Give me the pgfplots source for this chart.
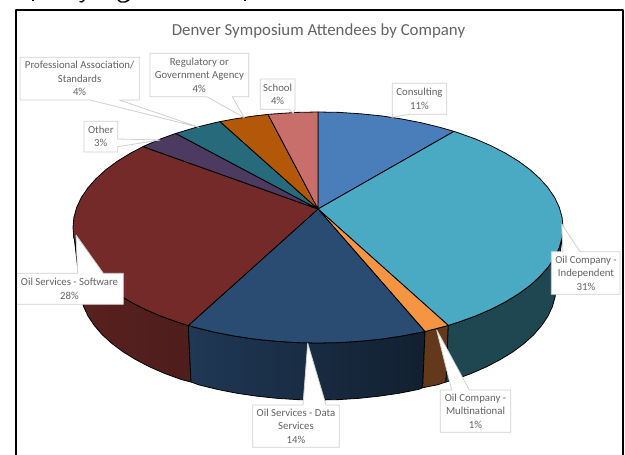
\documentclass[border=0pt]{standalone}
\usepackage{pgfplots}
\usepackage{fontspec}
\setmainfont{Carlito}
\pgfplotsset{compat=1.18}
\definecolor{cCons}{HTML}{4A7EBB}
\definecolor{cInd}{HTML}{4AA9C3}
\definecolor{cMul}{HTML}{F59441}
\definecolor{cData}{HTML}{2A4B72}
\definecolor{cSoft}{HTML}{732A29}
\definecolor{cOth}{HTML}{4C3A60}
\definecolor{cProf}{HTML}{276A7B}
\definecolor{cReg}{HTML}{B35708}
\definecolor{cSch}{HTML}{C86E6B}
\definecolor{txt}{HTML}{636363}
\definecolor{bx}{HTML}{D0D0D0}
\tikzset{lab/.style={align=center,inner sep=0pt,text=txt,font=\fontsize{10.8}{13.4}\selectfont}}
\begin{document}
\begin{tikzpicture}
\useasboundingbox (0,0) rectangle (625bp,455bp);
\begin{axis}[
  at={(0,0)}, anchor=south west,
  scale only axis, width=625bp, height=455bp,
  xmin=0, xmax=625, ymin=0, ymax=455, y dir=reverse,
  axis lines=none, clip=false,
  no markers,
  every axis plot/.append style={line join=round, line width=0.8bp, draw=black, solid},
]
% ---------- side walls
\addplot[left color=cSoft!78!black, right color=cSoft!68!black] coordinates {
(73.5,232)(73.9,237.6)(76.7,247.6)(81.3,257.4)(87.8,267.0)(96.0,276.3)(105.8,285.3)(117.3,293.7)(130.3,301.7)(144.8,309.2)(160.5,316.0)(177.5,322.1)(188.3,325.5)
(191,382)(181.5,379.6)(165,373.6)(149.7,366.9)(135.7,359.6)(123,351.8)(111.9,343.5)(102.3,334.8)(94.4,325.6)(88.1,316.2)(83.6,306.6)(80.9,296.9)(80,287)(73.5,232)};
\addplot[left color=cData!75!black, right color=cData!42!black] coordinates {
(188.3,325.5)(195.5,327.5)(214.5,332.2)(234.2,336.0)(254.6,339.1)(275.5,341.2)(296.6,342.6)(318,343)(339.4,342.6)(360.5,341.2)(381.4,339.1)(401.8,336.0)(421.5,332.2)(425,331.5)
(422.7,387.7)(418.6,389.4)(399.4,393.2)(379.6,396.1)(359.3,398.3)(338.8,399.6)(318,400)(297.2,399.6)(276.7,398.3)(256.4,396.1)(236.6,393.2)(217.4,389.4)(199,384.9)(191,382)(188.3,325.5)};
\addplot[fill=cMul!40!black!90!cSoft] coordinates {
(425,331.5)(440.5,327.5)(448.3,325.4)(446,382)(437,384.9)(422.7,387.7)(425,331.5)};
\addplot[fill=cInd!42!black] coordinates {
(448.3,325.4)(458.5,322.1)(475.5,316.0)(491.2,309.2)(505.7,301.7)(518.7,293.7)(530.2,285.3)(540.0,276.3)(548.2,267.0)(554.7,257.4)(559.3,247.6)(562.1,237.6)(562.8,232)
(556,287)(555.1,296.9)(552.4,306.6)(547.9,316.2)(541.6,325.6)(533.7,334.8)(524.1,343.5)(513,351.8)(500.3,359.6)(486.3,366.9)(471,373.6)(454.5,379.6)(446,382)(448.3,325.4)};
% ---------- top wedges
\addplot[fill=cCons] coordinates {
(318,209)(318,112)(339.4,112.4)(360.5,113.8)(381.4,115.9)(401.8,119.0)(421.5,122.8)(440.5,127.5)(454,131.4)(318,209)};
\addplot[fill=cInd] coordinates {
(318,209)(454,131.4)(458.5,132.9)(475.5,139.0)(491.2,145.8)(505.7,153.3)(518.7,161.3)(530.2,169.8)(540.0,178.7)(548.2,188.0)(554.7,197.6)(559.3,207.4)(562.1,217.4)(563,227.5)(562.1,237.6)(559.3,247.6)(554.7,257.4)(548.2,267.0)(540.0,276.3)(530.2,285.3)(518.7,293.7)(505.7,301.7)(491.2,309.2)(475.5,316.0)(458.5,322.1)(448.3,325.4)(318,209)};
\addplot[fill=cMul] coordinates {
(318,209)(448.3,325.4)(440.5,327.5)(425,331.5)(318,209)};
\addplot[fill=cData] coordinates {
(318,209)(425,331.5)(421.5,332.2)(401.8,336.0)(381.4,339.1)(360.5,341.2)(339.4,342.6)(318,343)(296.6,342.6)(275.5,341.2)(254.6,339.1)(234.2,336.0)(214.5,332.2)(195.5,327.5)(188.3,325.5)(318,209)};
\addplot[fill=cSoft] coordinates {
(318,209)(188.3,325.5)(177.5,322.1)(160.5,316.0)(144.8,309.2)(130.3,301.7)(117.3,293.7)(105.8,285.3)(96.0,276.3)(87.8,267.0)(81.3,257.4)(76.7,247.6)(73.9,237.6)(73,227.5)(73.9,217.4)(76.7,207.4)(81.3,197.6)(87.8,188.0)(96.0,178.7)(105.8,169.8)(117.3,161.3)(130.3,153.3)(143,146.6)(318,209)};
\addplot[fill=cOth] coordinates {
(318,209)(143,146.6)(144.8,145.8)(160.5,139.0)(175.7,133.4)(318,209)};
\addplot[fill=cProf] coordinates {
(318,209)(175.7,133.4)(177.5,132.9)(195.5,127.5)(214.5,122.8)(220,121.6)(318,209)};
\addplot[fill=cReg] coordinates {
(318,209)(220,121.6)(234.2,119.0)(254.6,115.9)(268,114.4)(318,209)};
\addplot[fill=cSch] coordinates {
(318,209)(268,114.4)(275.5,113.8)(296.6,112.4)(318,112)(318,209)};
% ---------- frame and the cut-off strokes above it
\addplot[line width=2.2bp, line cap=butt] coordinates {(16,456)(16,10)(622.7,10)(622.7,456)};
\addplot[line width=1.2bp] coordinates {(33,-1)(33,1.5)};
\addplot[line width=1.2bp] coordinates {(79.5,1.5)(82,2)(85,-1)};
\addplot[line width=1.4bp] coordinates {(118,0)(121,2)(125,2)(129,0)};
\addplot[line width=1.2bp] coordinates {(245,-1)(245,1.5)};
% ---------- callouts
\addplot[fill=white,draw=bx,line width=0.8bp] coordinates {(20,57.3)(139.3,57.3)(139.3,100)(119.3,100)(199,127.3)(90,100)(20,100)(20,57.3)};
\addplot[fill=white,draw=bx,line width=0.8bp] coordinates {(150,53.3)(248.7,53.3)(248.7,96.7)(232.3,96.7)(244.3,117.7)(206.7,96.7)(150,96.7)(150,53.3)};
\addplot[fill=white,draw=bx,line width=0.8bp] coordinates {(260.3,79)(295,79)(295,109.3)(295,109.3)(293.3,113.3)(289,109.3)(260.3,109.3)(260.3,79)};
\addplot[fill=white,draw=bx,line width=0.8bp] coordinates {(392.3,83.3)(446.7,83.3)(446.7,114.3)(410,114.3)(391.7,117.3)(393.3,114.3)(392.3,114.3)(392.3,83.3)};
\addplot[fill=white,draw=bx,line width=0.8bp] coordinates {(84,121.3)(117.7,121.3)(117.7,139)(160,140)(117.7,146.7)(117.7,152)(84,152)(84,121.3)};
\addplot[fill=white,draw=bx,line width=0.8bp] coordinates {(551.3,251.7)(563,251.7)(561.7,224)(580,251.7)(620,251.7)(620,294.3)(551.3,294.3)(551.3,251.7)};
\addplot[fill=white,draw=bx,line width=0.8bp] coordinates {(17.2,273.3)(77.7,273.3)(76,235)(103.3,273.3)(123.3,273.3)(123.3,304.3)(17.2,304.3)};
\addplot[fill=white,draw=bx,line width=0.8bp] coordinates {(252.7,405)(303,405)(307.7,343.3)(326,405)(339.3,405)(339.3,447.3)(252.7,447.3)(252.7,405)};
\addplot[fill=white,draw=bx,line width=0.8bp] coordinates {(440.3,390)(451.7,390)(436.7,330)(469.3,390)(510.7,390)(510.7,432.3)(440.3,432.3)(440.3,390)};
% ---------- text
\node[lab,font=\fontsize{16.9}{19}\selectfont] at (axis cs:318.5,31) {Denver Symposium Attendees by Company};
\node[lab] at (axis cs:79.6,78.6) {Professional Association/\\Standards\\4\%};
\node[lab] at (axis cs:199.3,75) {Regulatory or\\Government Agency\\4\%};
\node[lab] at (axis cs:277.6,94.2) {School\\4\%};
\node[lab] at (axis cs:419.5,98.8) {Consulting\\11\%};
\node[lab] at (axis cs:100.8,136.6) {Other\\3\%};
\node[lab] at (axis cs:586,273) {Oil Company -\\Independent\\31\%};
\node[lab] at (axis cs:69.5,288.8) {Oil Services - Software\\28\%};
\node[lab] at (axis cs:296,426) {Oil Services - Data\\Services\\14\%};
\node[lab] at (axis cs:475.5,411) {Oil Company -\\Multinational\\1\%};
\end{axis}
\end{tikzpicture}
\end{document}
